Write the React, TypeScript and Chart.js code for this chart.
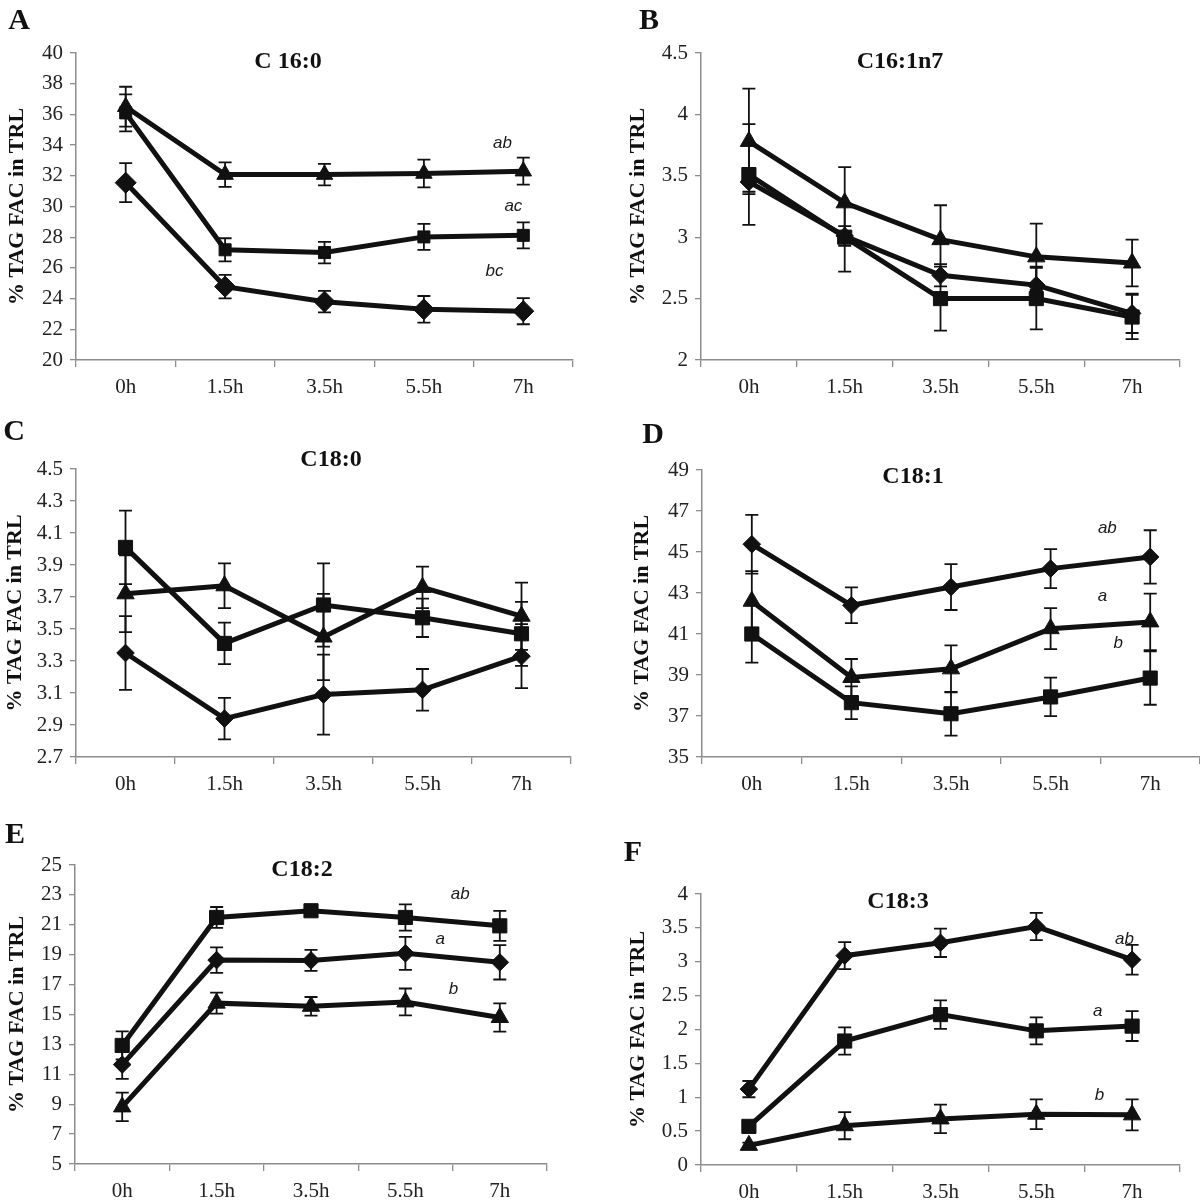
import React, { useEffect, useRef } from 'react';
import { Chart, registerables } from 'chart.js';

Chart.register(...registerables);

// ---------------- DATA ----------------
const categories = ['0h', '1.5h', '3.5h', '5.5h', '7h'];
const yAxisTitle = '% TAG FAC in TRL';

// Panel A – C 16:0
const A_ticks = [20, 22, 24, 26, 28, 30, 32, 34, 36, 38, 40];
const A_diamond = [31.55, 24.78, 23.8, 23.3, 23.18];
const A_diamondErr = [1.27, 0.77, 0.7, 0.87, 0.85];
const A_square = [36.1, 27.18, 27.0, 28.02, 28.12];
const A_squareErr = [1.2, 0.75, 0.7, 0.85, 0.85];
const A_triangle = [36.5, 32.08, 32.08, 32.15, 32.3];
const A_triangleErr = [1.3, 0.8, 0.7, 0.9, 0.88];
const A_notes = [
  { text: 'ab', x: 3.79, y: 34.15 },
  { text: 'ac', x: 3.9, y: 30.0 },
  { text: 'bc', x: 3.71, y: 25.75 },
];

// Panel B – C16:1n7
const B_ticks = [2, 2.5, 3, 3.5, 4, 4.5];
const B_diamond = [3.45, 3.01, 2.69, 2.61, 2.38];
const B_diamondErr = [0.08, 0.08, 0.09, 0.15, 0.16];
const B_square = [3.51, 3.0, 2.5, 2.5, 2.35];
const B_squareErr = [0.41, 0.28, 0.26, 0.25, 0.18];
const B_triangle = [3.78, 3.28, 2.98, 2.84, 2.79];
const B_triangleErr = [0.43, 0.29, 0.28, 0.27, 0.19];
const B_notes: { text: string; x: number; y: number }[] = [];

// Panel C – C18:0
const C_ticks = [2.7, 2.9, 3.1, 3.3, 3.5, 3.7, 3.9, 4.1, 4.3, 4.5];
const C_diamond = [3.35, 2.94, 3.09, 3.12, 3.33];
const C_diamondErr = [0.23, 0.13, 0.25, 0.13, 0.2];
const C_square = [4.01, 3.41, 3.65, 3.57, 3.47];
const C_squareErr = [0.23, 0.13, 0.26, 0.12, 0.2];
const C_triangle = [3.72, 3.77, 3.45, 3.76, 3.58];
const C_triangleErr = [0.24, 0.14, 0.27, 0.13, 0.21];
const C_notes: { text: string; x: number; y: number }[] = [];

// Panel D – C18:1
const D_ticks = [35, 37, 39, 41, 43, 45, 47, 49];
const D_diamond = [45.38, 42.4, 43.29, 44.19, 44.76];
const D_diamondErr = [1.43, 0.87, 1.12, 0.95, 1.3];
const D_square = [41.0, 37.65, 37.11, 37.93, 38.85];
const D_squareErr = [1.4, 0.8, 1.07, 0.94, 1.3];
const D_triangle = [42.6, 38.88, 39.3, 41.26, 41.59];
const D_triangleErr = [1.47, 0.9, 1.15, 1.0, 1.38];
const D_notes = [
  { text: 'ab', x: 3.57, y: 46.14 },
  { text: 'a', x: 3.52, y: 42.84 },
  { text: 'b', x: 3.68, y: 40.53 },
];

// Panel E – C18:2
const E_ticks = [5, 7, 9, 11, 13, 15, 17, 19, 21, 23, 25];
const E_diamond = [11.65, 18.64, 18.62, 19.09, 18.49];
const E_diamondErr = [0.95, 0.85, 0.7, 1.1, 1.15];
const E_square = [12.93, 21.49, 21.94, 21.49, 20.93];
const E_squareErr = [0.94, 0.7, 0.35, 0.88, 1.0];
const E_triangle = [8.82, 15.76, 15.55, 15.84, 14.8];
const E_triangleErr = [0.95, 0.7, 0.62, 0.9, 0.95];
const E_notes = [
  { text: 'ab', x: 3.58, y: 23.07 },
  { text: 'a', x: 3.37, y: 20.0 },
  { text: 'b', x: 3.51, y: 16.7 },
];

// Panel F – C18:3
const F_ticks = [0, 0.5, 1, 1.5, 2, 2.5, 3, 3.5, 4];
const F_diamond = [1.12, 3.09, 3.28, 3.52, 3.03];
const F_diamondErr = [0.12, 0.2, 0.21, 0.2, 0.22];
const F_square = [0.57, 1.83, 2.22, 1.98, 2.05];
const F_squareErr = [0.06, 0.2, 0.21, 0.2, 0.22];
const F_triangle = [0.29, 0.58, 0.68, 0.75, 0.74];
const F_triangleErr = [0.04, 0.2, 0.21, 0.22, 0.23];
const F_notes = [
  { text: 'ab', x: 3.92, y: 3.33 },
  { text: 'a', x: 3.64, y: 2.27 },
  { text: 'b', x: 3.66, y: 1.03 },
];

// ---------------- STYLE / LAYOUT ----------------
const SERIF = '"Liberation Serif", "Times New Roman", Times, serif';
const SANS = '"Liberation Sans", Arial, Helvetica, sans-serif';
const AXIS = '#8c8c8c';
const INK = '#111111';
const TICK_TEXT = '#222222';
const TICK_FONT = 21;
const YTITLE_FONT = 22;

const pointStyles = { diamond: 'rectRot', square: 'rect', triangle: 'triangle' };
const markersDefault = { diamond: 8.8, square: 10, triangle: 10 };
const markersA = { diamond: 10.5, square: 8.5, triangle: 9.5 };

type Kind = 'diamond' | 'square' | 'triangle';
type Note = { text: string; x: number; y: number };
type Series = { name: string; kind: Kind; values: number[]; errors: number[] };
type Layout = {
  canvas: [number, number, number, number]; // left, top, width, height (page px)
  area: [number, number, number, number]; // left, right, top, bottom (page px)
  titleAt: [number, number];
  letterAt: [number, number];
  yTitleX: number;
  markers: Record<Kind, number>;
};
type Panel = { letter: string; title: string; ticks: number[]; series: Series[]; notes: Note[]; layout: Layout };

function mkSeries(d: number[], dE: number[], s: number[], sE: number[], t: number[], tE: number[]): Series[] {
  return [
    { name: 'Diamond series', kind: 'diamond', values: d, errors: dE },
    { name: 'Square series', kind: 'square', values: s, errors: sE },
    { name: 'Triangle series', kind: 'triangle', values: t, errors: tE },
  ];
}

const panels: Panel[] = [
  {
    letter: 'A', title: 'C 16:0', ticks: A_ticks, notes: A_notes,
    series: mkSeries(A_diamond, A_diamondErr, A_square, A_squareErr, A_triangle, A_triangleErr),
    layout: { canvas: [0, 0, 600, 400], area: [76, 573, 53, 360], titleAt: [288, 62], letterAt: [19, 21], yTitleX: 17, markers: markersA },
  },
  {
    letter: 'B', title: 'C16:1n7', ticks: B_ticks, notes: B_notes,
    series: mkSeries(B_diamond, B_diamondErr, B_square, B_squareErr, B_triangle, B_triangleErr),
    layout: { canvas: [600, 0, 600, 400], area: [701, 1180, 53, 360], titleAt: [900, 62], letterAt: [649, 21], yTitleX: 638, markers: markersDefault },
  },
  {
    letter: 'C', title: 'C18:0', ticks: C_ticks, notes: C_notes,
    series: mkSeries(C_diamond, C_diamondErr, C_square, C_squareErr, C_triangle, C_triangleErr),
    layout: { canvas: [0, 400, 600, 400], area: [76, 571, 469, 757], titleAt: [331, 460], letterAt: [14, 432], yTitleX: 15, markers: markersDefault },
  },
  {
    letter: 'D', title: 'C18:1', ticks: D_ticks, notes: D_notes,
    series: mkSeries(D_diamond, D_diamondErr, D_square, D_squareErr, D_triangle, D_triangleErr),
    layout: { canvas: [600, 400, 600, 400], area: [702, 1200, 470, 757], titleAt: [913, 477], letterAt: [653, 435], yTitleX: 642, markers: markersDefault },
  },
  {
    letter: 'E', title: 'C18:2', ticks: E_ticks, notes: E_notes,
    series: mkSeries(E_diamond, E_diamondErr, E_square, E_squareErr, E_triangle, E_triangleErr),
    layout: { canvas: [0, 800, 600, 401], area: [75, 547, 865, 1164], titleAt: [302, 870], letterAt: [15, 835], yTitleX: 17, markers: markersDefault },
  },
  {
    letter: 'F', title: 'C18:3', ticks: F_ticks, notes: F_notes,
    series: mkSeries(F_diamond, F_diamondErr, F_square, F_squareErr, F_triangle, F_triangleErr),
    layout: { canvas: [600, 800, 600, 401], area: [701, 1180, 894, 1165], titleAt: [898, 902], letterAt: [633, 853], yTitleX: 638, markers: markersDefault },
  },
];

const X_AXIS_HEIGHT = 35;

function PanelChart({ panel }: { panel: Panel }) {
  const ref = useRef<HTMLCanvasElement>(null);
  const [cl, ct, cw, ch] = panel.layout.canvas;

  useEffect(() => {
    const canvas = ref.current;
    if (!canvas) return;
    const p = panel;
    const [aL, aR, aT, aB] = p.layout.area;
    const yAxisWidth = aL - cl;
    const padRight = Math.max(0, cl + cw - aR);
    const padTop = aT - ct;
    const padBottom = Math.max(0, ct + ch - aB - X_AXIS_HEIGHT);
    const yTitlePad = p.layout.yTitleX - cl - (YTITLE_FONT * 1.2) / 2;

    const decor = {
      id: 'decor',
      afterDatasetsDraw(chart: any) {
        const ctx: CanvasRenderingContext2D = chart.ctx;
        const xs = chart.scales.x;
        const ys = chart.scales.y;
        ctx.save();
        // error bars
        ctx.strokeStyle = INK;
        ctx.lineWidth = 1.8;
        p.series.forEach((s) => {
          s.values.forEach((v, i) => {
            const e = s.errors[i];
            const px = xs.getPixelForValue(i);
            const t = ys.getPixelForValue(v + e);
            const b = ys.getPixelForValue(v - e);
            ctx.beginPath();
            ctx.moveTo(px, t);
            ctx.lineTo(px, b);
            ctx.moveTo(px - 6.5, t);
            ctx.lineTo(px + 6.5, t);
            ctx.moveTo(px - 6.5, b);
            ctx.lineTo(px + 6.5, b);
            ctx.stroke();
          });
        });
        // significance notes
        ctx.fillStyle = '#1a1a1a';
        ctx.textAlign = 'center';
        ctx.textBaseline = 'middle';
        ctx.font = `italic 17px ${SANS}`;
        p.notes.forEach((n) => {
          ctx.fillText(n.text, xs.getPixelForValue(n.x), ys.getPixelForValue(n.y));
        });
        // chart title
        ctx.fillStyle = INK;
        ctx.font = `bold 24px ${SERIF}`;
        ctx.fillText(p.title, p.layout.titleAt[0] - cl, p.layout.titleAt[1] - ct);
        // panel letter
        ctx.font = `bold 30px ${SERIF}`;
        ctx.fillText(p.letter, p.layout.letterAt[0] - cl, p.layout.letterAt[1] - ct);
        ctx.restore();
      },
    };

    const chart = new Chart(canvas, {
      type: 'line',
      data: {
        labels: categories,
        datasets: p.series.map((s) => ({
          label: s.name,
          data: s.values,
          borderColor: INK,
          backgroundColor: INK,
          borderWidth: 5,
          tension: 0,
          fill: false,
          pointStyle: pointStyles[s.kind] as any,
          pointRadius: p.layout.markers[s.kind],
          pointBackgroundColor: INK,
          pointBorderColor: INK,
          pointBorderWidth: 1,
        })),
      },
      options: {
        animation: false,
        responsive: false,
        events: [],
        layout: {
          autoPadding: false,
          padding: { left: 0, right: padRight, top: padTop, bottom: padBottom },
        },
        plugins: {
          legend: { display: false },
          tooltip: { enabled: false },
          title: { display: false },
        },
        scales: {
          x: {
            type: 'category',
            offset: true,
            grid: {
              display: true,
              drawOnChartArea: false,
              drawTicks: true,
              tickLength: 7,
              offset: true,
              color: AXIS,
              lineWidth: 1.3,
            },
            border: { display: true, color: AXIS, width: 1.5 },
            ticks: {
              font: { family: SERIF, size: TICK_FONT },
              color: TICK_TEXT,
              padding: 8,
              maxRotation: 0,
              autoSkip: false,
            },
            afterFit: (s: any) => {
              s.height = X_AXIS_HEIGHT;
              s.paddingLeft = 0;
              s.paddingRight = 0;
            },
          },
          y: {
            type: 'linear',
            min: p.ticks[0],
            max: p.ticks[p.ticks.length - 1],
            afterBuildTicks: (s: any) => {
              s.ticks = p.ticks.map((v) => ({ value: v }));
            },
            grid: {
              display: true,
              drawOnChartArea: false,
              drawTicks: true,
              tickLength: 6,
              color: AXIS,
              lineWidth: 1.3,
            },
            border: { display: true, color: AXIS, width: 1.5 },
            ticks: {
              font: { family: SERIF, size: TICK_FONT },
              color: TICK_TEXT,
              padding: 7,
              callback: (v: any) => String(v),
            },
            title: {
              display: true,
              text: yAxisTitle,
              font: { family: SERIF, size: YTITLE_FONT, weight: 'bold' },
              color: INK,
              padding: { top: yTitlePad, bottom: 0 },
            },
            afterFit: (s: any) => {
              s.width = yAxisWidth;
            },
          },
        },
      } as any,
      plugins: [decor],
    });
    return () => chart.destroy();
  }, [panel]);

  return (
    <canvas
      ref={ref}
      width={cw}
      height={ch}
      style={{ position: 'absolute', left: cl, top: ct, width: cw, height: ch }}
    />
  );
}

export default function App() {
  useEffect(() => {
    document.body.style.margin = '0';
  }, []);
  return (
    <div
      style={{
        position: 'absolute',
        left: 0,
        top: 0,
        width: 1200,
        height: 1201,
        background: '#ffffff',
        overflow: 'hidden',
      }}
    >
      {panels.map((p) => (
        <PanelChart key={p.letter} panel={p} />
      ))}
    </div>
  );
}
